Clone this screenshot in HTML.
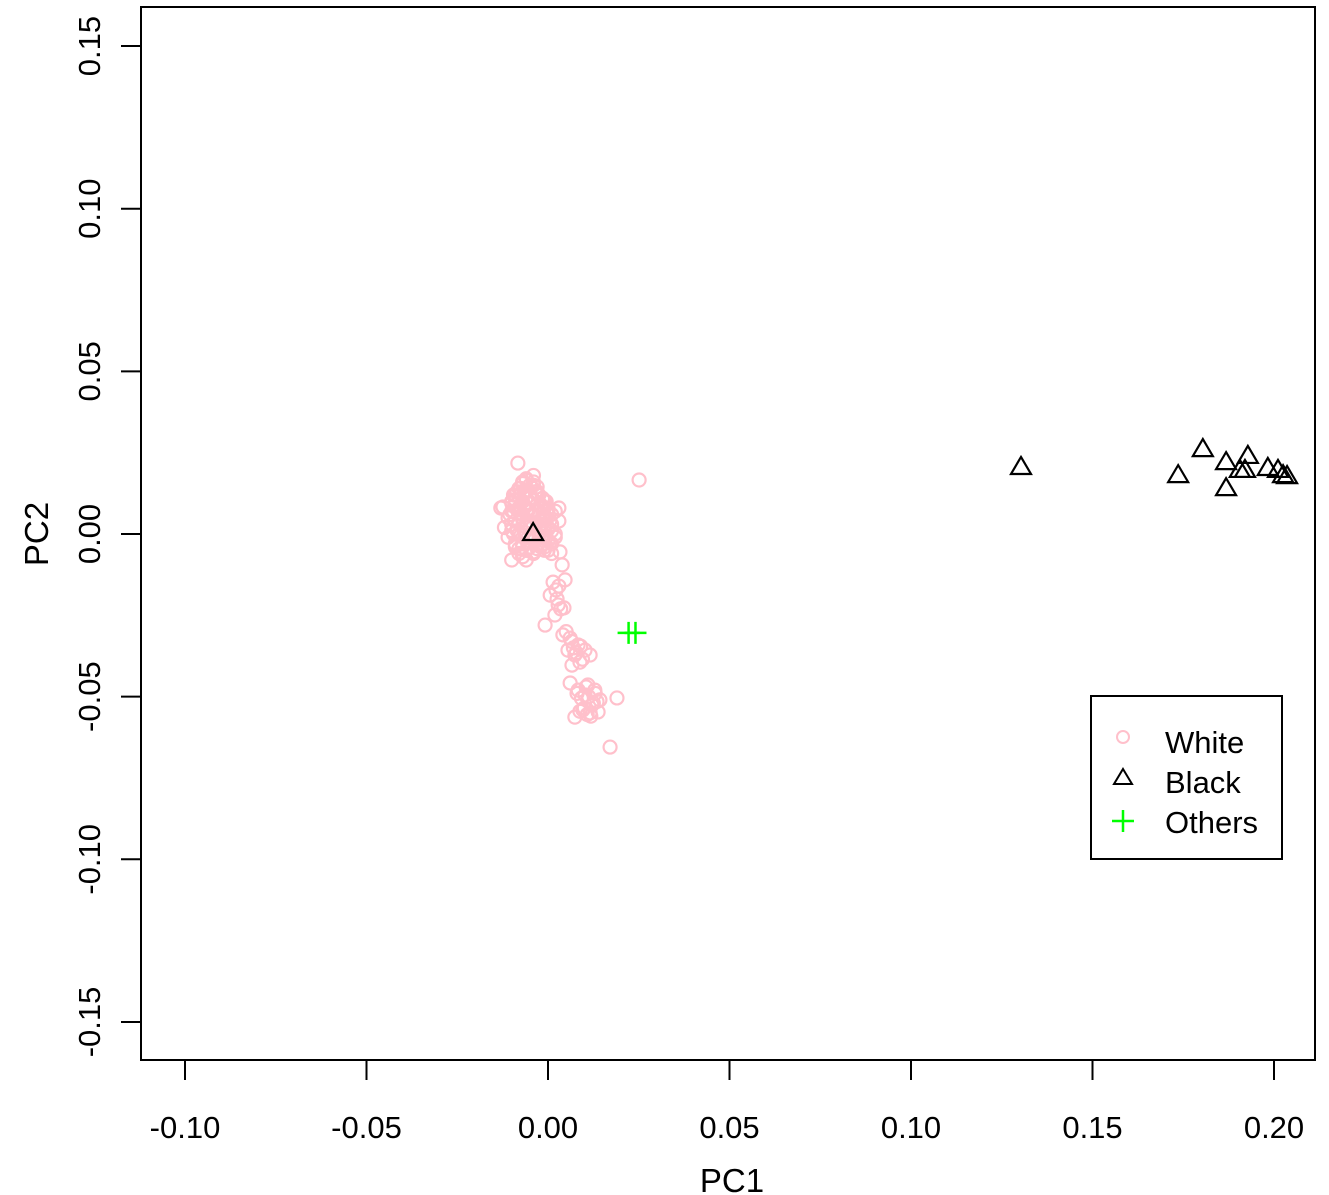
<!DOCTYPE html>
<html><head><meta charset="utf-8"><style>
body{margin:0;background:#fff}
svg{display:block;font-family:"Liberation Sans",Arial,sans-serif}
</style></head><body>
<svg id="chart" width="1329" height="1195" viewBox="0 0 1329 1195">
<rect x="141" y="7" width="1174" height="1053" fill="none" stroke="#000" stroke-width="2"/>
<g id="axes"></g>
<g id="marks"></g>
<text x="732" y="1192" font-size="33" text-anchor="middle">PC1</text>
<text transform="translate(48,534) rotate(-90)" font-size="33" text-anchor="middle">PC2</text>
<g>
<rect x="1091" y="696" width="191" height="163" fill="#fff" stroke="#000" stroke-width="2"/>
<circle cx="1123" cy="737" r="6" fill="none" stroke="#FFC0CB" stroke-width="2"/>
<text x="1165" y="753" font-size="31">White</text>
<path d="M1123 769 L1132 784 L1114 784 Z" fill="none" stroke="#000" stroke-width="2"/>
<text x="1165" y="793" font-size="31">Black</text>
<path d="M1112 821 H1134 M1123 810 V832" stroke="#00FF00" stroke-width="2.5"/>
<text x="1165" y="833" font-size="31">Others</text>
</g>
</svg>
<script>
const xTicks=[-0.10,-0.05,0.00,0.05,0.10,0.15,0.20];
const xTickLabels=["-0.10","-0.05","0.00","0.05","0.10","0.15","0.20"];
const yTicks=[-0.15,-0.10,-0.05,0.00,0.05,0.10,0.15];
const yTickLabels=["-0.15","-0.10","-0.05","0.00","0.05","0.10","0.15"];
const whiteX=[-0.010,-0.009,-0.008,-0.007,-0.006,-0.005,-0.004,-0.003,-0.002,-0.001,0.000,0.001,-0.011,-0.010,-0.009,-0.008,-0.007,-0.006,-0.005,-0.004,-0.003,-0.002,-0.001,0.000,0.002,-0.012,-0.010,-0.008,-0.006,-0.004,-0.002,0.000,0.002,-0.009,-0.007,-0.005,-0.003,-0.001,0.001,-0.008,-0.006,-0.004,-0.002,0.000,-0.007,-0.005,-0.003,-0.006,-0.004,-0.011,-0.009,-0.007,-0.005,-0.003,-0.001,0.001,0.002,0.003,-0.013,-0.010,-0.006,0.001,0.003,
-0.0095,-0.0085,-0.0075,-0.0065,-0.0055,-0.0045,-0.0035,-0.0025,-0.0015,-0.0005,
-0.0100,-0.0090,-0.0080,-0.0070,-0.0060,-0.0050,-0.0040,-0.0030,-0.0020,-0.0010,0.0000,
-0.0105,-0.0095,-0.0085,-0.0075,-0.0065,-0.0055,-0.0045,-0.0035,-0.0025,-0.0015,-0.0005,0.0005,
-0.0100,-0.0090,-0.0080,-0.0070,-0.0060,-0.0050,-0.0040,-0.0030,-0.0020,-0.0010,0.0000,0.0010,
-0.0095,-0.0085,-0.0075,-0.0065,-0.0055,-0.0045,-0.0035,-0.0025,-0.0015,-0.0005,0.0005,
-0.0090,-0.0080,-0.0070,-0.0060,-0.0050,-0.0040,-0.0030,-0.0020,-0.0010,
-0.0070,-0.0060,-0.0050,-0.0040,-0.0030,
0.0033,0.0039,0.0014,0.0022,0.0006,0.0028,0.0044,0.0019,-0.0008,0.0041,0.0061,0.0083,0.0074,0.0102,0.0066,0.0088,0.0116,0.0061,0.0083,0.0110,0.0129,0.0143,0.0096,0.0116,0.0074,0.0121,0.0190,0.0171,0.0251,-0.0083,-0.0124,0.0047,0.0055,0.0102,0.0138,
0.0030,0.0025,0.0035,0.0050,0.0065,0.0070,0.0078,0.0090,0.0095,0.0105,0.0080,0.0092,0.0112,0.0125,0.0100,0.0108,0.0130,0.0088,0.0118,0.0135];
const whiteY=[0.010,0.012,0.014,0.016,0.013,0.011,0.015,0.012,0.009,0.010,0.008,0.006,0.005,0.007,0.009,0.008,0.006,0.007,0.004,0.006,0.005,0.003,0.004,0.002,0.007,0.002,0.001,0.000,0.002,-0.001,0.001,-0.002,0.000,-0.003,-0.004,-0.002,-0.003,-0.005,-0.003,-0.006,-0.005,-0.006,-0.004,-0.005,0.010,0.011,0.013,0.017,0.018,-0.001,-0.004,-0.007,0.003,0.009,0.005,0.003,-0.001,0.008,0.008,-0.008,-0.008,-0.006,0.004,
0.0120,0.0130,0.0140,0.0125,0.0135,0.0145,0.0130,0.0120,0.0110,0.0100,
0.0095,0.0105,0.0115,0.0100,0.0110,0.0095,0.0105,0.0090,0.0085,0.0080,0.0070,
0.0060,0.0070,0.0075,0.0065,0.0080,0.0070,0.0060,0.0070,0.0060,0.0055,0.0050,0.0040,
0.0030,0.0040,0.0035,0.0045,0.0030,0.0040,0.0025,0.0035,0.0020,0.0025,0.0015,0.0010,
0.0000,0.0010,-0.0005,0.0005,-0.0010,0.0000,-0.0015,-0.0005,-0.0020,-0.0010,-0.0025,
-0.0035,-0.0045,-0.0030,-0.0050,-0.0040,-0.0055,-0.0045,-0.0035,-0.0040,
0.0155,0.0165,0.0150,0.0160,0.0145,
-0.0055,-0.0095,-0.0148,-0.0172,-0.0188,-0.0218,-0.0227,-0.0249,-0.0280,-0.0310,-0.0320,-0.0341,-0.0372,-0.0357,-0.0403,-0.0394,-0.0372,-0.0458,-0.0480,-0.0464,-0.0480,-0.0510,-0.0541,-0.0550,-0.0563,-0.0526,-0.0504,-0.0655,0.0166,0.0218,0.0083,-0.0141,-0.0357,-0.0495,-0.0547,
-0.0160,-0.0200,-0.0230,-0.0300,-0.0330,-0.0350,-0.0365,-0.0345,-0.0385,-0.0470,-0.0490,-0.0505,-0.0500,-0.0520,-0.0535,-0.0555,-0.0490,-0.0545,-0.0560,-0.0515];
const blackX=[0.1303,0.1736,0.1804,0.1868,0.1868,0.1906,0.1928,0.1920,0.1983,0.2011,0.2025,0.2036,-0.0041];
const blackY=[0.0206,0.0181,0.0261,0.0221,0.0141,0.0197,0.0240,0.0197,0.0203,0.0197,0.0181,0.0178,0.0003];
const othersX=[0.0222,0.0241];
const othersY=[-0.0304,-0.0304];

const NS="http://www.w3.org/2000/svg";
const xs=v=>548+v*3630;
const ys=v=>534-v*3253;
const axes=document.getElementById('axes');
const marks=document.getElementById('marks');
function mk(tag,attrs,parent){const e=document.createElementNS(NS,tag);for(const k in attrs)e.setAttribute(k,attrs[k]);parent.appendChild(e);return e;}
let xa=mk('line',{x1:xs(xTicks[0]),x2:xs(xTicks[xTicks.length-1]),y1:1060,y2:1060,stroke:'#000','stroke-width':2},axes);


xTicks.forEach((t,i)=>{
  const l=mk('line',{x1:xs(t),x2:xs(t),y1:1060,y2:1080,stroke:'#000','stroke-width':2},axes);
  
  
  const tx=mk('text',{x:xs(t),y:1138,'font-size':31,'text-anchor':'middle'},axes);
  tx.textContent=xTickLabels[i];
  
  
});
let ya=mk('line',{y1:ys(yTicks[0]),y2:ys(yTicks[yTicks.length-1]),x1:141,x2:141,stroke:'#000','stroke-width':2},axes);


yTicks.forEach((t,i)=>{
  const l=mk('line',{y1:ys(t),y2:ys(t),x1:121,x2:141,stroke:'#000','stroke-width':2},axes);
  
  
  const tx=mk('text',{transform:`translate(100,${ys(t)}) rotate(-90)`,'font-size':31,'text-anchor':'middle'},axes);
  tx.textContent=yTickLabels[i];
  
  
});
whiteX.forEach((v,i)=>{
  const c=mk('circle',{cx:xs(v),cy:ys(whiteY[i]),r:6.5,fill:'none',stroke:'#FFC0CB','stroke-width':2.2},marks);
  
  
});
blackX.forEach((v,i)=>{
  const x=xs(v),y=ys(blackY[i]);
  const p=mk('path',{d:`M${x} ${y-10} L${x+10} ${y+7} L${x-10} ${y+7} Z`,fill:'none',stroke:'#000','stroke-width':2.2},marks);
  
  
});
othersX.forEach((v,i)=>{
  const x=xs(v),y=ys(othersY[i]);
  const p=mk('path',{d:`M${x-11} ${y} H${x+11} M${x} ${y-11} V${y+11}`,stroke:'#00FF00','stroke-width':2.5},marks);
  
  
});
</script>
</body></html>
